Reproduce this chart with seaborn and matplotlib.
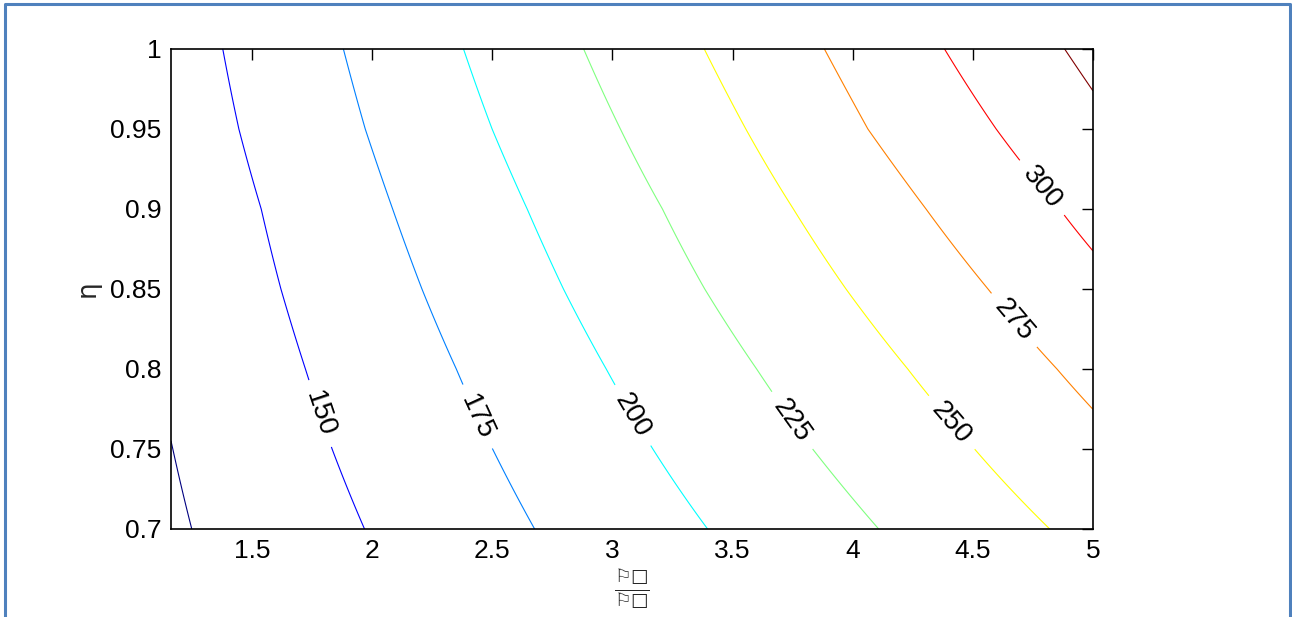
import numpy as np
import matplotlib
matplotlib.use("Agg")
import matplotlib.pyplot as plt
import seaborn as sns
from matplotlib.lines import Line2D

# rows of eta where the contour crossings were read
ETA_ROWS = [0.70, 0.75, 0.80, 0.85, 0.90, 0.95, 1.00]
LEVELS = [125, 150, 175, 200, 225, 250, 275, 300, 325]

# x position of each contour level at each eta row (bottom -> top)
X_125 = [1.249, 1.170, 1.10, 1.03, 0.97, 0.90, 0.85]
X_150 = [1.968, 1.833, 1.722, 1.620, 1.538, 1.445, 1.378]
X_175 = [2.676, 2.501, 2.350, 2.207, 2.085, 1.971, 1.880]
X_200 = [3.396, 3.168, 2.974, 2.796, 2.645, 2.499, 2.380]
X_225 = [4.108, 3.833, 3.600, 3.384, 3.208, 3.033, 2.880]
X_250 = [4.820, 4.507, 4.229, 3.972, 3.753, 3.555, 3.382]
X_275 = [5.47, 5.16, 4.850, 4.563, 4.305, 4.063, 3.882]
X_300 = [6.10, 5.78, 5.45, 5.14, 4.861, 4.597, 4.382]
X_325 = [6.65, 6.30, 5.95, 5.65, 5.38, 5.11, 4.882]

X_TICKS = [1.5, 2, 2.5, 3, 3.5, 4, 4.5, 5]
X_TICK_LABELS = ["1.5", "2", "2.5", "3", "3.5", "4", "4.5", "5"]
Y_TICKS = [0.7, 0.75, 0.8, 0.85, 0.9, 0.95, 1.0]
Y_TICK_LABELS = ["0.7", "0.75", "0.8", "0.85", "0.9", "0.95", "1"]

X_MIN, X_MAX = 1.1625, 5.0

# MATLAB-style jet colours, one per level
LINE_COLORS = [(0, 0, 0.5), (0, 0, 1), (0, 0.5, 1), (0, 1, 1), (0.5, 1, 0.5),
               (1, 1, 0), (1, 0.5, 0), (1, 0, 0), (0.5, 0, 0)]

sns.set_style("white")
plt.rcParams['font.family'] = ['Liberation Sans', 'DejaVu Sans']
plt.rcParams['mathtext.fontset'] = 'dejavusans'

W, H = 1292, 617
fig = plt.figure(figsize=(W / 100, H / 100), dpi=100)
ax = fig.add_axes([171 / W, 1 - 529 / H, 922 / W, 480 / H])

crossings = np.array([X_125, X_150, X_175, X_200, X_225, X_250, X_275, X_300, X_325])
step = LEVELS[1] - LEVELS[0]
lv = [LEVELS[0] - step] + LEVELS + [LEVELS[-1] + step]
xs = np.linspace(X_MIN, X_MAX, 700)
rows = []
for j in range(len(ETA_ROWS)):
    c = crossings[:, j]
    # pad one extra level on each side so the field keeps sloping past the ends
    xp = np.concatenate([[2 * c[0] - c[1]], c, [2 * c[-1] - c[-2]]])
    rows.append(np.interp(xs, xp, lv))
Z = np.array(rows)

cs = ax.contour(xs, ETA_ROWS, Z, levels=LEVELS, colors=LINE_COLORS, linewidths=0.8)
# label spots for 150 ... 300 (125 and 325 stay unlabelled)
label_spots = [(1.76, 0.771), (2.42, 0.769), (3.05, 0.768), (3.74, 0.767),
               (4.40, 0.765), (4.66, 0.829), (4.785, 0.913)]
ax.clabel(cs, manual=label_spots, fmt="%d", fontsize=20,
          inline=True, inline_spacing=12, colors="black")

ax.set_xlim(X_MIN, X_MAX)
ax.set_ylim(0.7, 1.0)
ax.set_xticks(X_TICKS)
ax.set_xticklabels(X_TICK_LABELS)
ax.set_yticks(Y_TICKS)
ax.set_yticklabels(Y_TICK_LABELS)
ax.tick_params(direction="in", length=8, width=1, top=True, right=True,
               labelsize=19, pad=7, colors="black")
for sp in ax.spines.values():
    sp.set_color("black")
    sp.set_linewidth(1.2)

ax.set_ylabel("η", fontsize=19, family=['DejaVu Sans'])
ax.yaxis.set_label_coords(-0.076, 0.5)
ax.set_xlabel(r"$\frac{⚐□}{⚐□}$", fontsize=19)
ax.xaxis.set_label_coords(0.5, -0.08)

# page frame around the figure (open at the bottom)
x0, x1, y1 = 5 / W, 1289.5 / W, 1 - 4 / H
fig.add_artist(Line2D([x0, x0, x1, x1], [0, y1, y1, 0], transform=fig.transFigure,
                      color="#4F81BD", linewidth=2.2))

fig.savefig("out.png", dpi=100)
